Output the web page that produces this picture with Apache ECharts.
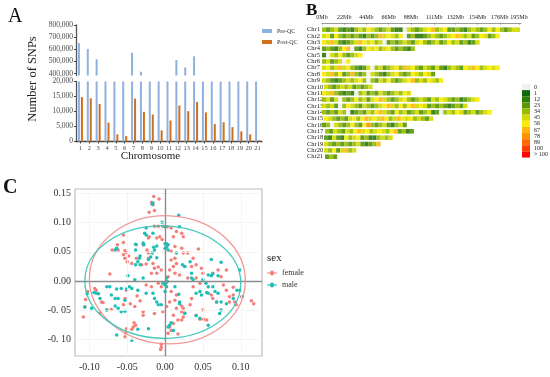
<!DOCTYPE html>
<html><head><meta charset="utf-8">
<style>html,body{margin:0;padding:0;background:#fff}#c{width:550px;height:377px}</style>
<script src="https://cdn.jsdelivr.net/npm/echarts@6/dist/echarts.min.js"></script>
</head><body><div id="c"></div>
<script>
// Panel A
const chromosomes=['1','2','3','4','5','6','7','8','9','10','11','12','13','14','15','16','17','18','19','20','21'];
const preQC=[652000,603000,518000,300000,250000,230000,572000,415000,350000,290000,340000,512000,450000,542000,330000,280000,300000,260000,240000,220000,90000];
const postQC=[14800,14400,12500,6300,2400,1800,14300,9900,9000,3700,7000,12000,10100,13200,9700,5800,6400,4800,3400,2400,400];
const upperTicks=[400000,500000,600000,700000,800000];
// Panel B
const chrNames=['Chr1','Chr2','Chr3','Chr4','Chr5','Chr6','Chr7','Chr8','Chr9','Chr10','Chr11','Chr12','Chr13','Chr14','Chr15','Chr16','Chr17','Chr18','Chr19','Chr20','Chr21'];
const mbTicks=[0,22,44,66,88,111,132,154,176,195];
const binMb=4;
const chrStart=[0,0,0,0,0,0,0,0,0,2,0,0,0,0,2,0,3,2,2,2,3];
const chr1=[34,23,34,45,23,12,23,12,34,45,34,56,45,34,23,34,45,23,12,12,0,45,34,23,34,45,56,67,34,45,56,23,23,34,23,12,34,45,34,23,34,56,34,56,34,23,34,45,45];
const chr2=[45,56,23,56,34,23,34,23,34,23,12,34,23,34,67,45,56,45,34,56,0,23,34,12,12,23,34,45,34,23,34,45,56,67,45,34,45,23,34,56,45,23,34,56];
const chr3=[56,45,67,45,23,12,23,34,45,67,56,45,56,34,45,0,23,34,23,34,45,34,23,45,56,34,23,34,45,23,34,56,34,45,23,34,12,23,45];
const chr4=[23,34,23,12,34,56,67,0,23,12,34,56,45,56,34,45,56,34,23,34,23,12,34];
const chr5=[12,0,45,34,56,34,23,34,45,56];
const chr6=[34,45,23,34,45,0,56];
const chr7=[45,56,34,45,67,45,56,34,23,12,23,45,0,34,45,23,34,45,56,34,67,45,56,34,23,45,34,23,45,23,12,34,45,34,23,56,45,67,56,34,45,56,45,56];
const chr8=[56,45,67,34,56,23,34,67,34,23,34,0,45,34,23,12,34,45,56,34,23,34,56,45,34,56,45,23];
const chr9=[45,34,23,12,23,34,45,34,45,56,34,0,34,23,45,34,56,34,23,34,45,56,67,34,45,34,56,45,34,56];
const chr10=[45,34,23,34,45,34,45,23,34,23,34,45];
const chr11=[56,45,67,34,23,12,23,12,0,34,45,23,34,23,45,34,23,34,45,34,56,45];
const chr12=[34,45,23,45,0,34,23,34,56,34,45,23,45,56,67,45,34,23,34,45,56,34,23,34,45,34,23,45,34,56,45,34,23,34,12,23,34,45,56];
const chr13=[45,34,45,23,0,34,56,45,34,23,45,34,23,34,45,56,67,45,34,56,34,56,67,45,56,45,23,34,23,34,23,12,23,34,23,45];
const chr14=[34,23,34,23,45,34,0,12,23,34,23,45,34,56,67,45,34,23,56,34,45,23,34,45,23,34,45,12,23,0,34,45,34,56,45,23,34,45,23,34,45,56];
const chr15=[56,45,34,23,34,23,45,56,34,56,67,45,56,45,67,56,34,45,67,56,45,56,34,45,34,23,45];
const chr16=[23,34,0,45,34,23,34,56,34,23,56,78,34,23,34,45,23,12,34,45,23];
const chr17=[34,23,45,34,23,45,34,56,67,45,56,34,45,56,45,34,56,67,23,34,12,23];
const chr18=[23,12,45,23,12,56,34,45,56,23,34,12,12,34,45,34,45];
const chr19=[45,34,23,34,23,34,23,34,45,23,12,23,34,67];
const chr20=[45,34,56,23,45,67,34,45];
const chr21=[23,34,23];
const chrBins=[chr1,chr2,chr3,chr4,chr5,chr6,chr7,chr8,chr9,chr10,chr11,chr12,chr13,chr14,chr15,chr16,chr17,chr18,chr19,chr20,chr21];
const densityLabels=['0','1','12','23','34','45','56','67','78','89','100','> 100'];
const densityMin=[0,1,12,23,34,45,56,67,78,89,100,101];
const densityMax=[0,11,22,33,44,55,66,77,88,99,100,1000];
const densityColors=['#f1eff4','#0c6a0c','#2f7d0b','#5a980a','#98bc05','#d2dc00','#faec00','#fdb710','#fd9300','#fd6a00','#fd3a00','#fd0505'];
// Panel C
const xTicks=[-0.10,-0.05,0,0.05,0.10];
const xTickLabels=['-0.10','-0.05','0.00','0.05','0.10'];
const yTicks=[-0.10,-0.05,0,0.05,0.10,0.15];
const yTickLabels=['-0. 10','-0. 05','0.00','0.05','0.10','0.15'];
const femaleEllipse=[0.003,0.002,0.103,0.110,-0.045];
const maleEllipse=[-0.003,-0.002,0.103,0.0965,-0.03];
const female=[[-.015,.145],[-.008,.141],[-.018,.135],[-.016,.131],[-.014,.121],[-.021,.118],[-.014,.094],[-.009,.094],[-.003,.094],[.003,.093],[-.021,.076],[-.055,.079],[-.055,.066],[-.063,.062],[-.070,.053],[-.062,.053],[-.053,.052],[-.051,.049],[-.055,.045],[-.048,.043],[-.053,.039],[-.050,.033],[-.044,.030],[-.073,.012],[-.038,.062],[-.029,.062],[-.022,.074],[-.011,.074],[-.007,.076],[-.004,.071],[-.024,.053],[-.022,.048],[-.022,.039],[-.038,.039],[-.031,.028],[-.025,.029],[-.016,.030],[-.014,.022],[-.009,.024],[-.005,.019],[-.011,.013],[-.018,.013],[.008,.091],[.011,.076],[.015,.085],[.022,.082],[.024,.076],[.013,.059],[.022,.056],[.008,.051],[.013,.039],[.008,.036],[.015,.030],[.011,.025],[.006,.019],[.004,.007],[.013,.013],[.019,.010],[.024,.048],[.030,.048],[.044,.055],[.037,.039],[.026,.025],[.035,.025],[.041,.028],[.048,.022],[.050,.013],[.041,.005],[.030,.005],[.063,.013],[.070,.019],[.081,.019],[.074,.007],[.046,-.004],[-.093,-.013],[-.091,-.016],[-.102,-.018],[-.105,-.032],[-.106,-.045],[-.108,-.062],[-.084,-.036],[-.082,-.037],[-.077,-.050],[-.071,-.049],[-.086,-.055],[-.051,-.016],[-.053,-.030],[-.046,-.039],[-.055,-.041],[-.040,-.044],[-.029,-.053],[-.029,-.059],[-.014,-.056],[-.003,-.053],[-.037,-.026],[-.033,-.034],[-.025,-.007],[-.018,-.010],[-.009,-.004],[-.005,-.010],[-.041,-.072],[-.039,-.076],[-.042,-.079],[-.044,-.083],[-.051,-.082],[-.052,-.089],[-.053,-.096],[.008,-.018],[.015,-.024],[.013,-.033],[.006,-.036],[.002,-.044],[.015,-.047],[.022,-.043],[.024,-.047],[.022,-.053],[.026,-.055],[.024,-.062],[.011,-.059],[.017,-.067],[.022,-.067],[.011,-.073],[.006,-.079],[.004,-.090],[.008,-.085],[.017,-.091],[-.005,-.109],[-.005,-.114],[-.006,-.118],[.037,-.010],[.035,-.030],[.033,-.041],[.041,-.059],[.046,-.066],[.051,-.066],[.055,-.067],[.050,-.050],[.063,-.030],[.068,-.036],[.061,-.024],[.081,-.016],[.085,-.027],[.090,-.024],[.085,-.036],[.092,-.036],[.094,-.041],[.077,-.007],[.090,-.011],[.114,-.034],[.117,-.039],[.101,-.027]];
const male=[[-.016,.134],[-.017,.132],[.018,.113],[-.004,.101],[-.025,.091],[-.027,.082],[-.025,.079],[-.016,.082],[.000,.093],[.019,.093],[-.029,.065],[-.028,.062],[-.039,.063],[-.039,.053],[-.011,.060],[-.014,.053],[-.017,.048],[-.019,.041],[-.022,.037],[-.015,.058],[.000,.064],[.002,.064],[.004,.062],[.002,.058],[.004,.053],[.000,.056],[-.033,.043],[-.034,.039],[-.036,.033],[-.039,.028],[-.033,.028],[-.011,.040],[-.064,.056],[-.066,.053],[.015,.048],[.033,.033],[.026,.025],[.023,.028],[.061,.037],[.074,.032],[.099,.019],[.057,.010],[.061,.009],[.070,.009],[.063,.012],[.035,.013],[.035,.005],[.037,.002],[.002,.005],[.003,-.001],[.001,-.004],[.000,-.007],[.002,-.010],[-.003,-.004],[.000,-.018],[-.029,.005],[-.049,.009],[-.040,.002],[-.047,-.010],[-.044,-.013],[-.036,-.016],[-.064,-.014],[-.058,-.013],[-.073,-.010],[-.077,-.010],[-.051,-.014],[-.094,-.020],[-.091,-.021],[-.088,-.022],[-.086,-.030],[-.071,-.024],[-.066,-.030],[-.062,-.030],[-.053,-.033],[-.066,-.043],[-.062,-.047],[-.058,-.053],[-.053,-.052],[-.077,-.050],[-.097,-.047],[-.106,-.045],[-.103,-.022],[-.025,-.021],[-.016,-.021],[-.014,-.030],[-.011,-.036],[-.009,-.041],[-.005,-.041],[-.022,-.082],[-.036,-.083],[-.064,-.093],[-.044,-.102],[.006,-.076],[.008,-.072],[.004,-.079],[.011,-.085],[.018,-.023],[.019,-.036],[.013,-.010],[.050,.002],[.054,-.004],[.057,-.010],[.055,-.020],[.057,-.021],[.063,-.010],[.066,-.018],[.070,-.021],[.046,-.018],[.041,-.021],[.048,-.024],[.068,-.036],[.074,-.036],[.081,-.039],[.072,-.056],[.074,-.050],[.090,-.030],[.095,-.016],[.099,-.016],[.102,-.027],[.057,-.076],[.041,-.060],[.046,-.064],[.019,-.039],[.026,-.056]];

const SERIF='"Liberation Serif","DejaVu Serif",serif';
const DARK='#4a4a4a', BLUE='#8fb1de', ORANGE='#cf701f', RED='#f47f7a', TEAL='#1dbfb6';
const densityCells=[];
chrBins.forEach((bins,row)=>bins.forEach((v,i)=>densityCells.push([chrStart[row]+i*binMb,row,v])));
const pickLabel=(ticks,labels)=>v=>labels[ticks.findIndex(t=>Math.abs(t-v)<1e-6)];
const ellipseItem=color=>(params,api)=>{
  const c=api.coord([api.value(0),api.value(1)]);
  const s=api.size([api.value(2),api.value(3)]);
  return {type:'ellipse',x:c[0],y:c[1],rotation:api.value(4),
    shape:{cx:0,cy:0,rx:s[0],ry:s[1]},
    style:{fill:'none',stroke:color,lineWidth:1.3,opacity:.9}};
};
const refLine=(axis,v,color,w)=>({[axis]:v,lineStyle:{color:color,width:w,type:'solid'}});
const chart=echarts.init(document.getElementById('c'),null,{renderer:'canvas'});
chart.setOption({
  animation:false,backgroundColor:'#fff',
  textStyle:{fontFamily:SERIF},
  grid:[
    {left:76,width:186,top:25,height:50.5},
    {left:76,width:186,top:81.5,height:60},
    {left:322,width:199,top:26.5,height:133.4},
    {left:75,width:187,top:189,height:167,show:true,borderColor:'#bdbdbd',borderWidth:1.2,backgroundColor:'#fff'}
  ],
  xAxis:[
    {gridIndex:0,type:'category',data:chromosomes,show:false},
    {gridIndex:1,type:'category',data:chromosomes,axisLine:{lineStyle:{color:'#444',width:1.3}},
      axisTick:{show:true,length:2,alignWithLabel:true,lineStyle:{color:'#444'}},
      axisLabel:{interval:0,fontSize:6.5,margin:3,color:DARK,fontFamily:SERIF}},
    {gridIndex:2,type:'value',position:'top',offset:3.5,min:0,max:197,splitLine:{show:false},
      axisLine:{show:true,lineStyle:{color:'#9a9a9a'}},
      axisTick:{show:true,length:1.5,inside:true,customValues:mbTicks,lineStyle:{color:'#888'}},
      axisLabel:{customValues:mbTicks,fontSize:6,margin:3,color:'#222',fontFamily:SERIF,formatter:v=>v+'Mb'}},
    {gridIndex:3,type:'value',min:-0.119,max:0.128,splitLine:{show:false},
      axisLine:{show:false},axisTick:{show:true,length:2,customValues:xTicks,lineStyle:{color:'#aaa'}},
      axisLabel:{customValues:xTicks,fontSize:10,margin:6,color:'#333',fontFamily:SERIF,formatter:pickLabel(xTicks,xTickLabels)}}
  ],
  yAxis:[
    {gridIndex:0,type:'value',min:384000,max:800000,splitLine:{show:false},
      axisLine:{show:true,lineStyle:{color:'#555',width:1.3}},
      axisTick:{show:true,length:2,customValues:upperTicks,lineStyle:{color:'#444'}},
      axisLabel:{customValues:upperTicks,fontSize:7.5,margin:3,color:DARK,fontFamily:SERIF,formatter:v=>v.toLocaleString('en-US')}},
    {gridIndex:1,type:'value',min:0,max:20000,interval:5000,splitLine:{show:false},
      axisLine:{show:true,lineStyle:{color:'#555',width:1.3}},
      axisTick:{show:true,length:2,lineStyle:{color:'#444'}},
      axisLabel:{fontSize:7.5,margin:3,color:DARK,fontFamily:SERIF,formatter:v=>v.toLocaleString('en-US')}},
    {gridIndex:2,type:'category',data:chrNames,inverse:true,axisLine:{show:false},axisTick:{show:false},splitLine:{show:false},
      axisLabel:{interval:0,align:'left',margin:15,fontSize:6.5,color:'#222',fontFamily:SERIF}},
    {gridIndex:3,type:'value',min:-0.129,max:0.158,splitLine:{show:false},
      axisLine:{show:false},axisTick:{show:true,length:2,customValues:yTicks,lineStyle:{color:'#aaa'}},
      axisLabel:{customValues:yTicks,fontSize:10,margin:4,color:'#333',fontFamily:SERIF,formatter:pickLabel(yTicks,yTickLabels)}}
  ],
  legend:[
    {data:['Pre-QC','Post-QC'],orient:'vertical',left:257,top:23,itemWidth:10,itemHeight:4,itemGap:5,icon:'rect',selectedMode:false,
      textStyle:{fontSize:6,color:'#333',fontFamily:SERIF}},
    {data:['female','male'],orient:'vertical',left:262,top:264,itemWidth:10,itemHeight:7,itemGap:4,selectedMode:false,
      icon:'path://M0 4.5H3A2 2 0 1 1 7 4.5H10V5.5H7A2 2 0 1 1 3 5.5H0Z',
      textStyle:{fontSize:8,color:'#333',fontFamily:SERIF}}
  ],
  visualMap:{type:'piecewise',seriesIndex:4,dimension:2,orient:'vertical',left:522,top:84,inverse:true,padding:0,align:'left',
    itemWidth:8,itemHeight:6.13,itemGap:0,textGap:4,itemSymbol:'rect',selectedMode:false,hoverLink:false,
    textStyle:{fontSize:6,color:'#222',fontFamily:SERIF},
    pieces:densityLabels.map((l,i)=>({min:densityMin[i],max:densityMax[i],label:l,color:densityColors[i]}))},
  series:[
    {name:'Pre-QC',type:'bar',xAxisIndex:1,yAxisIndex:1,data:preQC,barWidth:2,barGap:'50%',itemStyle:{color:BLUE}},
    {name:'Post-QC',type:'bar',xAxisIndex:1,yAxisIndex:1,data:postQC,barWidth:2,barGap:'50%',itemStyle:{color:ORANGE}},
    {name:'Pre-QC upper',type:'bar',xAxisIndex:0,yAxisIndex:0,data:preQC,barWidth:2,barGap:'50%',itemStyle:{color:BLUE}},
    {name:'Post-QC upper',type:'bar',xAxisIndex:0,yAxisIndex:0,data:[],barWidth:2,barGap:'50%'},
    {name:'density',type:'custom',xAxisIndex:2,yAxisIndex:2,data:densityCells,encode:{x:0,y:1},
      renderItem:(params,api)=>{
        const a=api.coord([api.value(0),api.value(1)]);
        const b=api.coord([api.value(0)+binMb,api.value(1)]);
        const h=api.size([0,1])[1]*0.72;
        return {type:'rect',shape:{x:a[0],y:a[1]-h/2,width:b[0]-a[0],height:h},style:{fill:api.visual('color'),opacity:.92}};
      }},
    {name:'refs',type:'scatter',xAxisIndex:3,yAxisIndex:3,data:[],z:1,silent:true,
      markLine:{silent:true,symbol:'none',label:{show:false},animation:false,data:[
        ...xTicks.filter(v=>v!==0).map(v=>refLine('xAxis',v,'#f1f1f1',.8)),
        ...yTicks.filter(v=>v!==0).map(v=>refLine('yAxis',v,'#f1f1f1',.8)),
        refLine('xAxis',0,'#8c8c8c',1.4),refLine('yAxis',0,'#8c8c8c',1.4)]}},
    {name:'female',type:'scatter',xAxisIndex:3,yAxisIndex:3,data:female,symbolSize:3.5,z:3,itemStyle:{color:RED,opacity:1}},
    {name:'male',type:'scatter',xAxisIndex:3,yAxisIndex:3,data:male,symbolSize:3.5,z:4,itemStyle:{color:TEAL,opacity:1}},
    {name:'female ellipse',type:'custom',xAxisIndex:3,yAxisIndex:3,data:[femaleEllipse],z:5,renderItem:ellipseItem('#f08c8c')},
    {name:'male ellipse',type:'custom',xAxisIndex:3,yAxisIndex:3,data:[maleEllipse],z:5,renderItem:ellipseItem('#35c4b8')}
  ],
  graphic:[
    {type:'text',left:8,top:7,style:{text:'A',font:'20px '+SERIF,fill:'#111'}},
    {type:'text',left:306,top:2,style:{text:'B',font:'bold 17px '+SERIF,fill:'#111'}},
    {type:'text',left:3,top:178,style:{text:'C',font:'bold 20px '+SERIF,fill:'#111'}},
    {type:'text',x:33,y:79,rotation:Math.PI/2,style:{text:'Number of SNPs',font:'12.5px '+SERIF,fill:'#222',align:'center',verticalAlign:'middle'}},
    {type:'text',x:150.5,y:156,style:{text:'Chromosome',font:'11px '+SERIF,fill:'#222',align:'center',verticalAlign:'middle'}},
    {type:'text',left:267,top:253,style:{text:'sex',font:'11px '+SERIF,fill:'#222'}}
  ]
});
</script></body></html>
